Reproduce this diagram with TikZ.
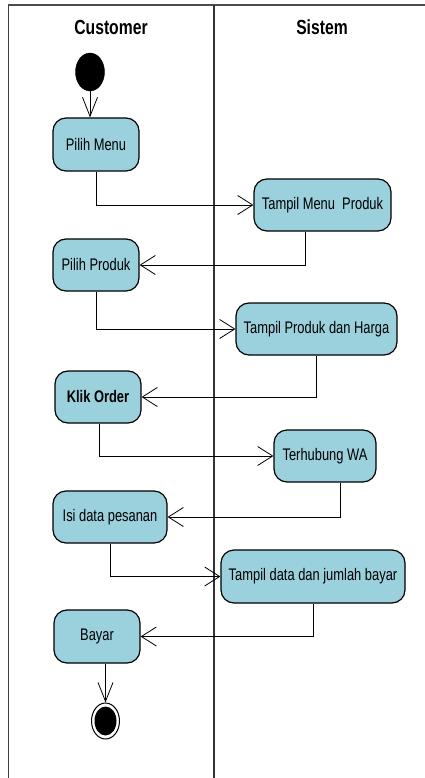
\documentclass[tikz,border=0pt]{standalone}
\usepackage{fontspec}
\usepackage{graphicx}
\setmainfont{Liberation Sans}
\usetikzlibrary{arrows.meta,calc,shapes.geometric}
\definecolor{actfill}{RGB}{155,208,221}
\newcommand{\vst}[1]{\scalebox{1}[1.3]{#1}}
\begin{document}
\begin{tikzpicture}[x=1pt,y=-1pt,
  act/.style={draw=black,line width=1.2pt,fill=actfill,rounded corners=13pt,inner sep=0pt,
    font=\fontsize{12.9}{15}\selectfont},
  lane/.style={font=\bfseries\fontsize{15.7}{18}\selectfont},
  flowh/.style={line width=0.8pt,-{Straight Barb[length=15pt,width=19pt,line width=0.8pt]}},
  flowv/.style={line width=0.8pt,-{Straight Barb[length=19pt,width=15pt,line width=0.8pt]}}]
\useasboundingbox (0,0) rectangle (425,778);
% frame
\draw[black!70,line width=1.5pt] (8,5) -- (425,5);
\draw[black!75,line width=1pt] (8,5) -- (8,778);
\draw[black!80,line width=2.6pt] (214,5) -- (214,778);
% headers
\node[lane] (hc) at (111,27) {\vst{Customer}};
\node[lane] (hs) at (322,27) {\vst{Sistem}};
% start / end
\node[draw,fill=black,ellipse,minimum width=29pt,minimum height=38pt,inner sep=0pt] (start) at (90,72) {};
\node[draw,line width=1pt,fill=white,ellipse,minimum width=28pt,minimum height=36pt,inner sep=0pt] (end) at (105.5,721) {};
\node[fill=black,ellipse,minimum width=22pt,minimum height=29pt,inner sep=0pt] (endin) at (105.5,721) {};
% activities
\node[act,minimum width=86pt,minimum height=53pt] (pm) at (96,144.5) {\vst{Pilih Menu}};
\node[act,minimum width=137pt,minimum height=52pt] (tmp) at (322.5,205) {\vst{Tampil Menu\ \ Produk}};
\node[act,minimum width=86pt,minimum height=52pt] (pp) at (96,265) {\vst{Pilih Produk}};
\node[act,minimum width=161pt,minimum height=52pt] (tph) at (316.5,329) {\vst{Tampil Produk dan Harga}};
\node[act,minimum width=86pt,minimum height=52pt] (ko) at (98,397) {\vst{\bfseries Klik Order}};
\node[act,minimum width=102pt,minimum height=52pt] (twa) at (325,456) {\vst{Terhubung WA}};
\node[act,minimum width=114pt,minimum height=52pt] (isi) at (110,517) {\vst{Isi data pesanan}};
\node[act,minimum width=184pt,minimum height=53pt] (tdj) at (313,576.5) {\vst{Tampil data dan jumlah bayar}};
\node[act,minimum width=86pt,minimum height=53pt] (by) at (97,636.5) {\vst{Bayar}};
% flows
\draw[flowv] (start) -- (start |- pm.north);
\draw[flowh] (pm.south) |- (tmp.west);
\draw[flowh] ([xshift=-17.5pt]tmp.south) |- (pp.east);
\draw[flowh] (pp.south) |- (tph.west);
\draw[flowh] (tph.south) |- (ko.east);
\draw[flowh] ([xshift=1pt]ko.south) |- (twa.west);
\draw[flowh] ([xshift=15pt]twa.south) |- (isi.east);
\draw[flowh] (isi.south) |- (tdj.west);
\draw[flowh] (tdj.south) |- (by.east);
\draw[flowv] (by.south -| end) -- (end.north);
\end{tikzpicture}
\end{document}
